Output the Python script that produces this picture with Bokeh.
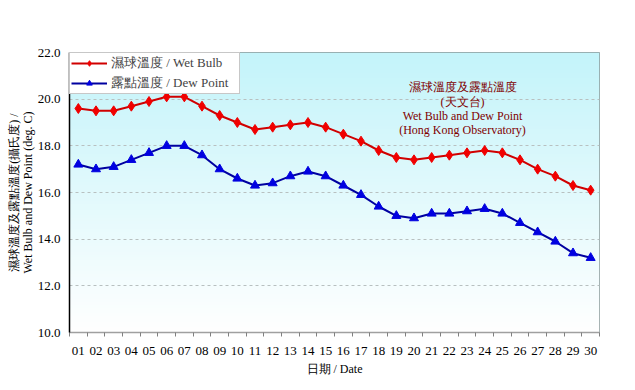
import numpy as np
from bokeh.plotting import figure
from bokeh.models import (Range1d, FixedTicker, Label, Legend, LegendItem, ColumnDataSource)
from bokeh.embed import file_html
from bokeh.resources import INLINE

dates = ["%02d" % d for d in range(1, 31)]
days = list(range(1, 31))
wet_bulb = [19.6, 19.5, 19.5, 19.7, 19.9, 20.1, 20.1, 19.7, 19.3, 19.0,
            18.7, 18.8, 18.9, 19.0, 18.8, 18.5, 18.2, 17.8, 17.5, 17.4,
            17.5, 17.6, 17.7, 17.8, 17.7, 17.4, 17.0, 16.7, 16.3, 16.1]
dew_point = [17.2, 17.0, 17.1, 17.4, 17.7, 18.0, 18.0, 17.6, 17.0, 16.6,
             16.3, 16.4, 16.7, 16.9, 16.7, 16.3, 15.9, 15.4, 15.0, 14.9,
             15.1, 15.1, 15.2, 15.3, 15.1, 14.7, 14.3, 13.9, 13.4, 13.2]
y_ticks = [10, 12, 14, 16, 18, 20, 22]

FONT = "Liberation Serif"
X0, X1 = 0.5, 30.5
Y0, Y1 = 10, 22

p = figure(width=628, height=381, output_backend="svg", toolbar_location=None,
           x_range=Range1d(X0, X1), y_range=Range1d(Y0, Y1),
           min_border_left=69, min_border_top=52, min_border_right=29,
           min_border_bottom=49)
p.background_fill_color = "white"
p.border_fill_color = "white"
p.outline_line_color = "#8a9a9a"
p.outline_line_width = 1

# gradient background
n = 100
img = np.zeros((n, 1), dtype=np.uint32)
view = img.view(dtype=np.uint8).reshape((n, 1, 4))
top = np.array([196, 244, 250])
bot = np.array([255, 255, 255])
for i in range(n):
    t = i / (n - 1)  # 0 bottom -> 1 top
    c = bot + (top - bot) * t
    view[i, 0, 0:3] = c.astype(np.uint8)
    view[i, 0, 3] = 255
p.image_rgba(image=[img], x=X0, y=Y0, dw=X1 - X0, dh=Y1 - Y0, level="image")

# grid
p.xgrid.grid_line_color = None
p.ygrid.grid_line_color = "#b8c0c0"
p.ygrid.grid_line_dash = "3 3"
p.ygrid.grid_line_width = 1
p.ygrid.level = "underlay"

# axes
p.yaxis.ticker = FixedTicker(ticks=y_ticks)
p.yaxis.major_label_overrides = {v: "%.1f" % v for v in y_ticks}
p.yaxis.axis_line_color = "black"
p.yaxis.axis_line_width = 1.5
p.yaxis.major_tick_line_color = None
p.yaxis.minor_tick_line_color = None
p.yaxis.major_tick_out = 0
p.yaxis.major_tick_in = 0
p.yaxis.minor_tick_out = 0
p.yaxis.minor_tick_in = 0
p.yaxis.major_label_standoff = 9
p.yaxis.major_label_text_font = FONT
p.yaxis.major_label_text_font_size = "13px"
p.yaxis.major_label_text_color = "black"
p.yaxis.axis_label = "濕球溫度及露點溫度(攝氏度) /\nWet Bulb and Dew Point (deg. C)"
p.yaxis.axis_label_text_font = FONT
p.yaxis.axis_label_text_font_size = "12px"
p.yaxis.axis_label_text_font_style = "normal"
p.yaxis.axis_label_text_color = "black"
p.yaxis.axis_label_text_line_height = 1.0
p.yaxis.axis_label_standoff = 0

p.xaxis.ticker = FixedTicker(ticks=days, minor_ticks=[d + 0.5 for d in range(0, 31)])
p.xaxis.major_label_overrides = {d: s for d, s in zip(days, dates)}
p.xaxis.axis_line_color = "#a0a0a0"
p.xaxis.axis_line_width = 1.5
p.xaxis.major_tick_line_color = None
p.xaxis.major_tick_out = 0
p.xaxis.major_tick_in = 0
p.xaxis.minor_tick_line_color = "#808080"
p.xaxis.minor_tick_out = 4
p.xaxis.minor_tick_in = 0
p.xaxis.major_label_standoff = 10
p.xaxis.major_label_text_font = FONT
p.xaxis.major_label_text_font_size = "13px"
p.xaxis.major_label_text_color = "black"
p.xaxis.axis_label = "日期 / Date"
p.xaxis.axis_label_text_font = FONT
p.xaxis.axis_label_text_font_size = "12px"
p.xaxis.axis_label_text_font_style = "normal"
p.xaxis.axis_label_text_color = "black"
p.xaxis.axis_label_standoff = 4

src = ColumnDataSource(dict(x=days, wet=wet_bulb, dew=dew_point))
l1 = p.line("x", "wet", source=src, line_color="#d00000", line_width=2)
m1 = p.scatter("x", "wet", source=src, marker="diamond", size=10,
               fill_color="#f00000", line_color="#f00000")
l2 = p.line("x", "dew", source=src, line_color="#0000a0", line_width=2)
m2 = p.scatter("x", "dew", source=src, marker="triangle", size=9,
               fill_color="#0000e0", line_color="#0000e0")

legend = Legend(items=[LegendItem(label="濕球溫度 / Wet Bulb", renderers=[l1, m1]),
                       LegendItem(label="露點溫度 / Dew Point", renderers=[l2, m2])],
                location="top_left", margin=0, padding=1, spacing=2,
                label_text_font=FONT, label_text_font_size="13px",
                label_height=14, glyph_height=14, glyph_width=36, label_width=127,
                label_standoff=4, border_line_color="#909090",
                background_fill_color="white", background_fill_alpha=1.0)
p.add_layout(legend)

# in-plot title
px = (X1 - X0) / 530.0
py = (Y1 - Y0) / 280.0
title_lines = ["濕球溫度及露點溫度", "(天文台)", "Wet Bulb and Dew Point", "(Hong Kong Observatory)"]
title_y = [86.7, 101.0, 115.7, 129.5]
for txt, yy in zip(title_lines, title_y):
    p.add_layout(Label(x=X0 + (462 - 69) * px, y=Y1 - (yy - 52) * py, text=txt,
                       text_align="center", text_baseline="middle",
                       text_font=FONT, text_font_size="12px", text_color="#800000"))

open("out.html", "w").write(file_html(p, INLINE))
